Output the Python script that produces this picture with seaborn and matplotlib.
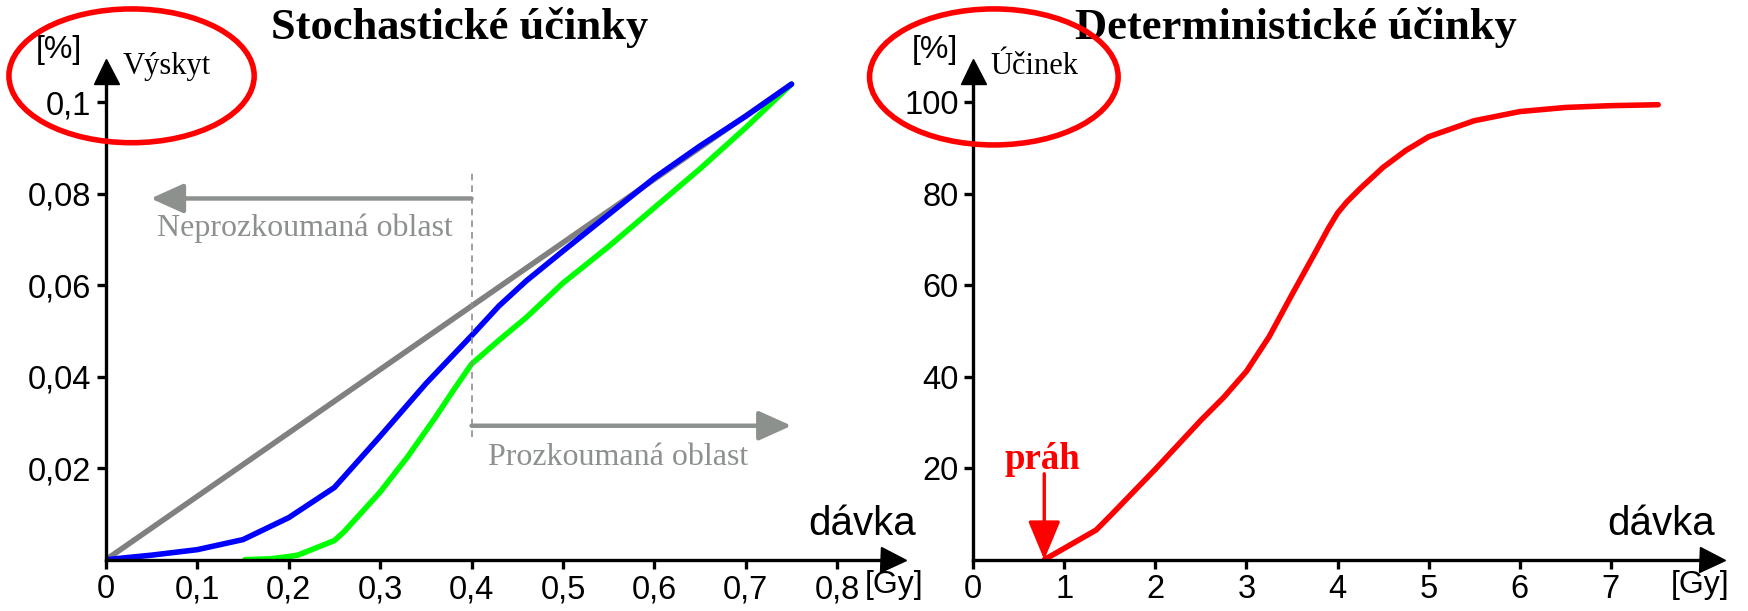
import numpy as np
import pandas as pd
import seaborn as sns
import matplotlib.pyplot as plt
from matplotlib.patches import Ellipse

# data
# stochastic effects, dose in Gy, incidence in %
lin_x = [0.0, 0.75]
lin_y = [0.0, 0.104]

blue_x = [0.0, 0.05, 0.1, 0.15, 0.2, 0.25, 0.3, 0.35, 0.4, 0.43, 0.46, 0.5, 0.55, 0.6, 0.65, 0.7, 0.75]
blue_y = [0.0, 0.001, 0.0022, 0.0044, 0.0092, 0.0158, 0.027, 0.0385, 0.049, 0.0555, 0.061, 0.0675,
          0.0755, 0.0835, 0.0905, 0.097, 0.104]

green_x = [0.152, 0.18, 0.2, 0.21, 0.25, 0.26, 0.3, 0.33, 0.36, 0.38, 0.4, 0.43, 0.46, 0.5,
           0.55, 0.6, 0.65, 0.7, 0.75]
green_y = [0.0, 0.0002, 0.0007, 0.001, 0.0042, 0.006, 0.0148, 0.0225, 0.031, 0.037, 0.0428,
           0.048, 0.053, 0.0605, 0.0685, 0.077, 0.0855, 0.0945, 0.104]

# deterministic effects, dose in Gy, effect in %
red_x = [0.78, 1.0, 1.35, 1.5, 2.0, 2.5, 2.75, 3.0, 3.25, 3.5, 3.75, 3.9, 4.0, 4.1, 4.25, 4.5, 4.75,
         5.0, 5.5, 6.0, 6.5, 7.0, 7.52]
red_y = [0.0, 2.5, 6.5, 9.5, 19.8, 30.5, 35.5, 41.2, 48.8, 58.0, 67.0, 72.5, 75.8, 78.2, 81.2, 85.8, 89.5,
         92.5, 96.0, 98.0, 98.9, 99.3, 99.5]

left_xticks = [0, 0.1, 0.2, 0.3, 0.4, 0.5, 0.6, 0.7, 0.8]
left_xlabels = ['0', '0,1', '0,2', '0,3', '0,4', '0,5', '0,6', '0,7', '0,8']
left_yticks = [0.02, 0.04, 0.06, 0.08, 0.1]
left_ylabels = ['0,02', '0,04', '0,06', '0,08', '0,1']
right_xticks = [0, 1, 2, 3, 4, 5, 6, 7]
right_xlabels = ['0', '1', '2', '3', '4', '5', '6', '7']
right_yticks = [20, 40, 60, 80, 100]
right_ylabels = ['20', '40', '60', '80', '100']

threshold = 0.78
explored = 0.4

sns.set_theme(style='white')
plt.rcParams['font.family'] = ['Liberation Sans', 'DejaVu Sans']
plt.rcParams['text.color'] = 'black'
plt.rcParams['xtick.color'] = 'black'
plt.rcParams['ytick.color'] = 'black'

SERIF = ['Liberation Serif', 'DejaVu Serif']
GREY = '#8c918d'

W, H = 1568.0, 548.0


def fx(p):
    return p / W


def fy(p):
    return 1 - p / H


fig = plt.figure(figsize=(17.48, 6.11), dpi=100)
fig.patch.set_facecolor('white')

ax1 = fig.add_axes([fx(95), fy(502), (801 - 95) / W, (502 - 64) / H])
ax2 = fig.add_axes([fx(873), fy(502), (1536 - 873) / W, (502 - 64) / H])


def style_axes(ax, xmax, ymax, xt, xl, yt, yl):
    ax.set_xlim(0, xmax)
    ax.set_ylim(0, ymax)
    ax.set_facecolor('none')
    for s in ['top', 'right']:
        ax.spines[s].set_visible(False)
    for s in ['left', 'bottom']:
        ax.spines[s].set_linewidth(2.4)
        ax.spines[s].set_color('black')
    ax.set_xticks(xt)
    ax.set_xticklabels(xl)
    ax.set_yticks(yt)
    ax.set_yticklabels(yl)
    ax.tick_params(direction='out', length=6.5, width=2.4, labelsize=23.5, pad=4,
                   bottom=True, left=True)
    ax.set_xlabel('')
    ax.set_ylabel('')
    # axis arrow heads
    ax.plot(1, 0, '>', color='black', ms=18, transform=ax.transAxes, clip_on=False)
    ax.plot(0, 1, '^', color='black', ms=18, transform=ax.transAxes, clip_on=False)


# left: stochastic
sns.lineplot(x=lin_x, y=lin_y, ax=ax1, color='#808080', lw=4, sort=False)
sns.lineplot(x=green_x, y=green_y, ax=ax1, color='#00ff00', lw=4, sort=False)
sns.lineplot(x=blue_x, y=blue_y, ax=ax1, color='#0000ff', lw=4, sort=False)
style_axes(ax1, 0.861, 0.1068, left_xticks, left_xlabels, left_yticks, left_ylabels)

ax1.plot([explored, explored], [0.0268, 0.0854], color=GREY, lw=1.2, ls=(0, (4, 3)))
ax1.annotate('', xy=(0.049, 0.079), xytext=(explored, 0.079),
             arrowprops=dict(arrowstyle='-|>,head_length=1.0,head_width=0.45',
                             color=GREY, lw=3.2, mutation_scale=20, shrinkA=0, shrinkB=0))
ax1.annotate('', xy=(0.75, 0.0293), xytext=(explored, 0.0293),
             arrowprops=dict(arrowstyle='-|>,head_length=1.0,head_width=0.45',
                             color=GREY, lw=3.2, mutation_scale=20, shrinkA=0, shrinkB=0))
ax1.text(0.218, 0.0724, 'Neprozkoumaná oblast', color=GREY, family=SERIF, fontsize=23,
         ha='center', va='center')
ax1.text(0.56, 0.0224, 'Prozkoumaná oblast', color=GREY, family=SERIF, fontsize=23,
         ha='center', va='center')

# right: deterministic
sns.lineplot(x=red_x, y=red_y, ax=ax2, color='#ff0000', lw=4, sort=False)
style_axes(ax2, 8.115, 106.8, right_xticks, right_xlabels, right_yticks, right_ylabels)
ax2.annotate('', xy=(threshold, 0), xytext=(threshold, 18.8),
             arrowprops=dict(arrowstyle='-|>,head_length=1.2,head_width=0.5',
                             color='#ff0000', lw=2.4, mutation_scale=20, shrinkA=0, shrinkB=0))
ax2.text(0.76, 22, 'práh', color='#ff0000', family=SERIF, fontsize=26.5, fontweight='bold',
         ha='center', va='center')

# titles and axis captions
fig.text(fx(412), fy(25), 'Stochastické účinky', family=SERIF, fontsize=32,
         fontweight='bold', ha='center', va='center')
fig.text(fx(1162), fy(25), 'Deterministické účinky', family=SERIF, fontsize=32,
         fontweight='bold', ha='center', va='center')

for x0, lab in [(110, 'Výskyt'), (888, 'Účinek')]:
    fig.text(fx(x0), fy(60), lab, family=SERIF, fontsize=22, ha='left', va='center')
for xc in [53, 839]:
    fig.text(fx(xc), fy(45), '[%]', fontsize=23, ha='center', va='center')
for xr in [822, 1538]:
    fig.text(fx(xr), fy(470), 'dávka', fontsize=29, ha='right', va='center')
for xc in [802, 1525]:
    fig.text(fx(xc), fy(525), '[Gy]', fontsize=23, ha='center', va='center')

# red highlight ellipses
for cx, cy, w, h in [(118, 68, 220, 120), (891.5, 69, 223, 122)]:
    fig.add_artist(Ellipse((fx(cx), fy(cy)), w / W, h / H, transform=fig.transFigure,
                           fill=False, ec='#ff0000', lw=4, zorder=10))

fig.savefig('out.png', dpi=100, facecolor='white')
